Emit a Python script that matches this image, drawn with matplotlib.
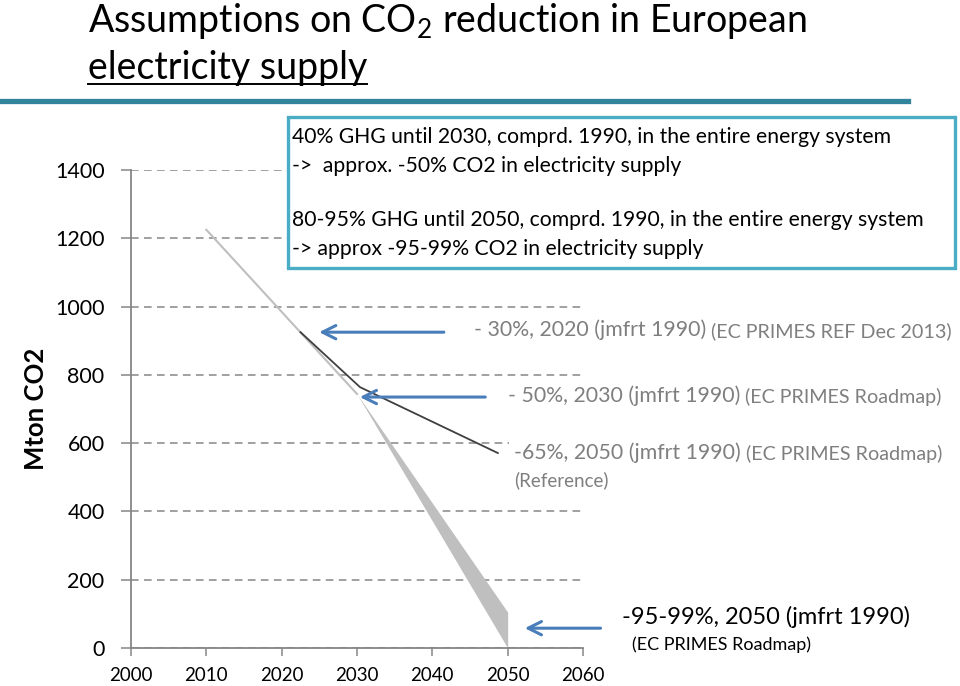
import matplotlib
matplotlib.use('Agg')
import matplotlib.pyplot as plt
from matplotlib.patches import Rectangle
from matplotlib.lines import Line2D

plt.rcParams['font.family'] = ['Lato', 'DejaVu Sans']
plt.rcParams['mathtext.fontset'] = 'custom'
plt.rcParams['mathtext.rm'] = 'Lato'

W, H = 960, 686

# values
years_grey = [2010, 2030]
grey_values = [1225, 744]
wedge_years = [2030, 2050]
wedge_upper = [744, 105]
wedge_lower = [744, 0]
years_black = [2022.5, 2030.4, 2048.7]
black_values = [925, 764, 571]
x_ticks = [2000, 2010, 2020, 2030, 2040, 2050, 2060]
y_ticks = [0, 200, 400, 600, 800, 1000, 1200, 1400]

box_lines = [
    '40% GHG until 2030, comprd. 1990, in the entire energy system',
    '->  approx. -50% CO2 in electricity supply',
    '80-95% GHG until 2050, comprd. 1990, in the entire energy system',
    '-> approx -95-99% CO2 in electricity supply',
]

grey_txt = '#7F7F7F'
arrow_col = '#4A7EBB'
axis_col = '#868686'


def fx(px):
    return px / W


def fy(py):
    return 1 - py / H


fig = plt.figure(figsize=(9.6, 6.86), dpi=100)
ax = fig.add_axes([fx(131), fy(648), 452 / W, 478 / H])

ax.set_xlim(2000, 2060)
ax.set_ylim(0, 1400)
ax.set_xticks(x_ticks)
ax.set_yticks(y_ticks)
ax.set_axisbelow(True)
ax.yaxis.grid(True, color=axis_col, ls=(0, (5, 3.5)), lw=1.1)
for s in ['top', 'right']:
    ax.spines[s].set_visible(False)
for s in ['left', 'bottom']:
    ax.spines[s].set_color(axis_col)
    ax.spines[s].set_linewidth(1.3)
ax.tick_params(axis='both', direction='out', length=6, width=1.1, color=axis_col)
ax.tick_params(axis='y', labelsize=15.5, length=7, pad=12)
ax.tick_params(axis='x', labelsize=13.5, pad=8)
ax.set_ylabel('Mton CO2', fontsize=18.5, fontweight='bold')
ax.yaxis.set_label_coords(-0.184, 0.5)

ax.fill_between(wedge_years, wedge_lower, wedge_upper, color='#BFBFBF', lw=0)
ax.plot(years_grey, grey_values, color='#BFBFBF', lw=1.5)
ax.plot(years_black, black_values, color='#404040', lw=1.3)

arrow_kw = dict(arrowstyle='->', color=arrow_col, lw=2.2, mutation_scale=24)
ax.annotate('', xy=(2024.6, 925), xytext=(2041.9, 925), arrowprops=arrow_kw, annotation_clip=False)
ax.annotate('', xy=(2030.0, 735), xytext=(2047.4, 735), arrowprops=arrow_kw, annotation_clip=False)
ax.annotate('', xy=(2051.9, 58), xytext=(2062.7, 58), arrowprops=arrow_kw, annotation_clip=False)

wbox = dict(fc='white', ec='none', pad=4)
t1 = ax.text(2045.5, 931, '- 30%, 2020 (jmfrt 1990)', color=grey_txt, fontsize=15.3,
             va='center', bbox=wbox, clip_on=False)
ax.annotate(' (EC PRIMES REF Dec 2013)', xy=(1, 0), xycoords=t1, color=grey_txt,
            fontsize=14.2, va='bottom')
t2 = ax.text(2050.0, 738, '- 50%, 2030 (jmfrt 1990)', color=grey_txt, fontsize=15.3,
             va='center', bbox=wbox, clip_on=False)
ax.annotate(' (EC PRIMES Roadmap)', xy=(1, 0), xycoords=t2, color=grey_txt,
            fontsize=14.2, va='bottom')
t3 = ax.text(2050.9, 571, '-65%, 2050 (jmfrt 1990)', color=grey_txt, fontsize=15.3,
             va='center', bbox=wbox, clip_on=False)
ax.annotate(' (EC PRIMES Roadmap)', xy=(1, 0), xycoords=t3, color=grey_txt,
            fontsize=14.2, va='bottom')
ax.text(2050.9, 492, '(Reference)', color=grey_txt, fontsize=13.5, va='center', clip_on=False)
ax.text(2065.2, 91, '-95-99%, 2050 (jmfrt 1990)', color='black', fontsize=17,
        va='center', clip_on=False)
ax.text(2066.5, 9, '(EC PRIMES Roadmap)', color='black', fontsize=13,
        va='center', clip_on=False)

# box with the assumptions
rect = Rectangle((fx(288), fy(268)), (955 - 288) / W, (268 - 117) / H,
                 transform=fig.transFigure, fc='white', ec='#4BACC6', lw=2.4, zorder=3)
fig.add_artist(rect)
for txt, py in zip(box_lines, [137, 166, 220, 249]):
    fig.text(fx(292), fy(py), txt, fontsize=15.2, va='center', zorder=4)

# title
fig.text(fx(88), fy(32), 'Assumptions on CO$_\\mathrm{2}$ reduction in European',
         fontsize=27, va='baseline')
sub = fig.text(fx(88), fy(79), 'electricity supply', fontsize=27, va='baseline')
fig.canvas.draw()
bb = sub.get_window_extent(fig.canvas.get_renderer())
fig.add_artist(Line2D([bb.x0 / W, bb.x1 / W], [fy(83.5)] * 2, color='black', lw=1.4,
                      transform=fig.transFigure))
fig.add_artist(Line2D([fx(2), fx(908)], [fy(101)] * 2, color='#31849B', lw=3.8,
                      transform=fig.transFigure))

fig.savefig('out.png', dpi=100)
